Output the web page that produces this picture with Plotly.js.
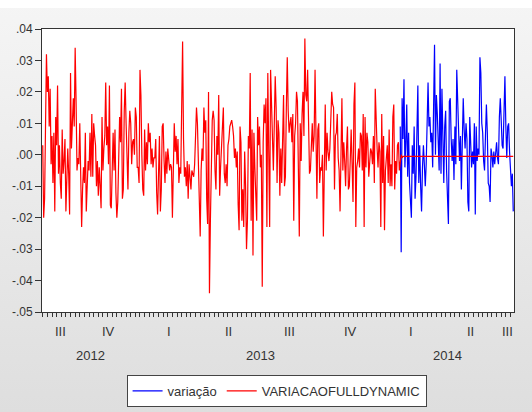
<!DOCTYPE html>
<html><head><meta charset="utf-8">
<script src="https://cdn.plot.ly/plotly-3.0.1.min.js"></script>
<style>
html,body{margin:0;padding:0;}
#bg{position:absolute;left:0;top:0;width:532px;height:412px;background:linear-gradient(#f5f5f5 0px,#f3f3f3 40px,#dedede 412px);}
#topband{position:absolute;left:0;top:0;width:532px;height:8px;background:#fff;}
#chart{position:absolute;left:0;top:0;width:532px;height:412px;}
</style></head><body>
<div id="bg"></div><div id="topband"></div><div id="chart"></div>
<script>
// first observation (daily, 5-day week)
const startDate = '2012-08-07';

// VARIACAOFULLDYNAMIC: in-sample part (equals actual variação)
const variacaoInSample = [
.003,-.020,-.014,.009,.032,.020,.025,.009,.021,-.003,
.006,-.009,.007,-.018,.012,.003,.022,-.006,.003,-.009,
-.014,.008,-.006,-.002,.005,-.018,-.002,.002,-.006,-.019,
.026,.002,.010,.018,.009,.034,.017,-.005,-.001,-.003,
.010,-.007,-.023,-.011,-.004,-.009,.007,-.018,-.006,
-.002,-.005,.007,-.007,.013,-.007,.010,.006,.003,-.010,
-.002,-.013,-.004,-.010,-.017,.012,-.005,.002,.006,.023,
.003,.009,-.003,.022,-.016,-.017,-.002,.007,-.005,.008,
-.012,-.020,-.015,.003,.012,.004,.021,-.014,-.011,.014,
.023,.010,.002,-.011,.007,.014,.010,-.003,.004,.005,
0,.015,
.012,-.004,-.004,-.009,.027,.019,0,-.011,-.013,.008,
-.005,.004,-.003,.010,.004,.007,-.003,.002,-.004,-.001,
-.001,.005,-.012,-.019,-.006,.006,-.018,-.011,.009,.010,
-.002,-.009,.001,-.006,.002,-.002,-.005,-.003,-.004,-.020,
.004,.010,.001,.006,-.003,.005,-.009,-.004,-.006,.013,
.036,.005,-.007,-.004,-.010,-.002,-.014,-.003,-.006,-.011,
-.005,-.006,-.007,-.003,.004,.015,.010,-.002,-.005,-.026,
-.005,.002,-.002,.015,.007,.011,-.014,-.022,.020,-.044,
-.021,-.001,.011,.014,.011,-.005,-.011,.006,0,.019,
-.013,-.004,.003,.006,.015,-.006,-.009,-.003,-.010,.003,
.005,
.009,.010,.011,.009,.006,-.001,.002,-.004,.001,-.016,
-.024,.009,.004,-.021,-.011,-.023,.001,-.010,-.030,-.021,
.006,.002,.026,-.021,.008,-.032,.007,-.004,-.012,-.021,
.012,.003,.009,-.004,0,-.042,.004,.016,.010,.018,
-.023,.026,.001,-.023,.027,.015,.010,-.005,.010,.025,
.015,-.009,.011,.007,-.013,.002,-.009,.006,.019,-.010,
-.007,.015,.031,.014,.007,.010,.012,.004,.013,-.021,
.006,.010,.020,.017,-.013,-.026,.010,-.002,.013,.020,
.006,.037,.019,.017,.027,.013,-.006,-.005,.006,.010,
.001,.006,.027,.004,-.014,.008,.010,-.009,-.004,-.005,
0,-.026,-.005,.016,-.005,
.007,.001,-.002,.002,.009,.020,.016,.015,-.011,.006,
.007,.013,-.001,-.005,-.018,.010,.018,-.005,.004,-.002,
-.010,.002,.009,-.011,-.010,-.002,.008,-.003,-.015,.016,
.023,-.023,-.004,-.002,.002,-.004,.007,.006,-.005,.013,
-.023,.012,-.004,.007,.004,-.007,0,.002,.001,-.003,
.006,-.009,.021,.006,.002,-.004,.004,.001,-.023,.013,
-.009,.006,-.024,-.005,.001,.003,-.009,.008,-.010,-.003,
-.010,.012,.016,-.011,-.002,-.006,.003,.004,-.005
];

// VARIACAOFULLDYNAMIC: dynamic forecast period
const dynamicForecast = [
-.002,0,-.001,-.0005,-.0005,-.0005,-.0005,-.0005,-.0005,-.0005,
-.0005,-.0005,-.0005,-.0005,-.0005,-.0005,-.0005,-.0005,-.0005,-.0005,
-.0005,-.0005,-.0005,-.0005,-.0005,-.0005,-.0005,-.0005,-.0005,-.0005,
-.0005,-.0005,-.0005,-.0005,-.0005,-.0005,-.0005,-.0005,-.0005,-.0005,
-.0005,-.0005,-.0005,-.0005,-.0005,-.0005,-.0005,-.0005,-.0005,-.0005,
-.0005,-.0005,-.0005,-.0005,-.0005,-.0005,-.0005,-.0005,-.0005,-.0005,
-.0005,-.0005,-.0005,-.0005,-.0005,-.0005,-.0005,-.0005,-.0005,-.0005,
-.0005,-.0005,-.0005,-.0005,-.0005,-.0005,-.0005,-.0005,-.0005,-.0005,
-.0005,-.0005,-.0005,-.0005,-.0005,-.0005,-.0005,-.0005,-.0005,-.0005,
-.0005,-.0005,-.0005,-.0005,-.0005,-.0005,-.0005,-.0005,-.0005,-.0005,
-.0005,-.0005,-.0005,-.0005,-.0005,-.0005,-.0005,-.0005,-.0005,-.0005,
-.0005,-.0005,-.0005,-.0005,-.0005,-.0005,-.0005,-.0005,-.0005,-.0005,
-.0005,-.0005,-.0005
];

// variação (actual) over the forecast period
const variacaoForecastWindow = [
.009,-.031,.018,.005,.024,-.004,.004,.016,-.007,.007,
-.009,-.017,-.020,.003,-.006,.009,-.014,
-.007,.010,.022,-.009,.003,-.010,-.018,-.004,.003,-.003,
-.010,-.003,.013,.023,.009,.012,.004,.007,-.004,.013,
.035,0,.019,.013,.006,-.005,.029,-.006,.021,-.003,
-.009,.009,.014,-.005,-.013,-.022,.017,.018,.005,-.002,
.005,-.008,.009,-.003,.027,.018,.007,-.002,.006,-.011,
.004,.018,.008,.002,.010,.005,-.015,-.018,.012,.004,
-.004,.001,-.003,.010,-.019,.009,-.002,.002,0,.031,
.026,.010,.007,-.002,-.005,.006,.016,.007,-.009,-.010,
-.015,.002,0,-.004,.001,-.003,.001,.004,-.001,-.003,
.012,.018,.011,.003,.002,.018,.025,.009,-.001,.009,
.010,.001,-.003,-.010,-.006,-.018
];

const yTickVals = [-.05,-.04,-.03,-.02,-.01,0,.01,.02,.03,.04];
const yTickLabels = ['-.05','-.04','-.03','-.02','-.01','.00','.01','.02','.03','.04'];
const quarterNames = ['I','II','III','IV'];
const seriesNames = ['variação','VARIACAOFULLDYNAMIC'];

// ---- build observation calendar (weekdays) ----
const dynamicFull = variacaoInSample.concat(dynamicForecast);
const N = dynamicFull.length;
const dates = [];
{
  const d = new Date(startDate + 'T00:00:00Z');
  while (dates.length < N) {
    const w = d.getUTCDay();
    if (w !== 0 && w !== 6) dates.push(new Date(d.getTime()));
    d.setUTCDate(d.getUTCDate() + 1);
  }
}
const idxAll = dates.map((_, i) => i);
const idxForecast = idxAll.slice(variacaoInSample.length);

// quarter / year spans in observation index
const qSpans = {}, ySpans = {};
dates.forEach((d, i) => {
  const y = d.getUTCFullYear(), q = Math.floor(d.getUTCMonth() / 3);
  const qk = y + '-' + q;
  if (!qSpans[qk]) qSpans[qk] = {q: q, a: i, b: i}; else qSpans[qk].b = i;
  if (!ySpans[y]) ySpans[y] = {a: i, b: i}; else ySpans[y].b = i;
});

const txtFont = {family: 'Liberation Sans, Arial, sans-serif', size: 13, color: '#333'};
const annotations = [];
Object.values(qSpans).forEach(s => {
  annotations.push({xref: 'x', yref: 'paper', x: (s.a + s.b) / 2, y: -0.068, yanchor: 'middle',
    xanchor: 'center', text: quarterNames[s.q], showarrow: false, font: txtFont});
});
Object.keys(ySpans).forEach(y => {
  const s = ySpans[y];
  annotations.push({xref: 'x', yref: 'paper', x: (s.a + s.b) / 2, y: -0.153, yanchor: 'middle',
    xanchor: 'center', text: String(y), showarrow: false, font: txtFont});
});

const traces = [
  {x: idxForecast, y: variacaoForecastWindow, type: 'scatter', mode: 'lines', name: seriesNames[0],
   line: {color: 'rgb(0,0,255)', width: 1.2}},
  {x: idxAll, y: dynamicFull, type: 'scatter', mode: 'lines', name: seriesNames[1],
   line: {color: 'rgb(255,0,0)', width: 1.2}}
];

const layout = {
  width: 532, height: 412,
  margin: {l: 42, r: 18, t: 29, b: 100, autoexpand: false},
  paper_bgcolor: 'rgba(0,0,0,0)', plot_bgcolor: '#ffffff',
  showlegend: true,
  legend: {orientation: 'h', x: 0.497, xanchor: 'center', yref: 'container', y: 0.051, yanchor: 'middle',
    bgcolor: '#ffffff', bordercolor: '#444', borderwidth: 1, font: txtFont, itemwidth: 30},
  xaxis: {range: [-0.8, N - 0.2], tickmode: 'linear', tick0: 0, dtick: 5, ticks: 'outside', ticklen: 4,
    tickcolor: '#333', showticklabels: false, showline: true, mirror: true, linecolor: '#333',
    linewidth: 1, showgrid: false, zeroline: false},
  yaxis: {range: [-0.05, 0.04], tickmode: 'array', tickvals: yTickVals, ticktext: yTickLabels,
    ticks: 'outside', ticklen: 6, tickcolor: '#333', showline: true, mirror: true, linecolor: '#333',
    linewidth: 1, showgrid: false, zeroline: false,
    tickfont: {family: 'Liberation Sans, Arial, sans-serif', size: 12, color: '#333'}},
  annotations: annotations
};

Plotly.newPlot('chart', traces, layout, {staticPlot: true, displayModeBar: false});
</script>
</body></html>
